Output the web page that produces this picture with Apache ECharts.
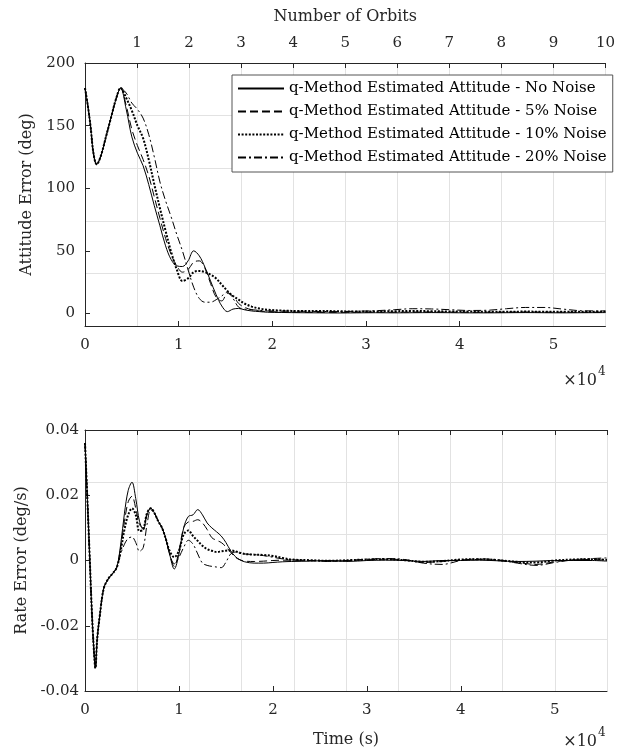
<!DOCTYPE html>
<html>
<head>
<meta charset="utf-8">
<script src="https://cdn.jsdelivr.net/npm/echarts@6/dist/echarts.min.js"></script>
<style>html,body{margin:0;padding:0;background:#fff;}#c{width:618px;height:753px;}</style>
</head>
<body>
<div id="c"></div>
<script>
// ---------- DATA ----------
const seriesNames = [
  'q-Method Estimated Attitude - No Noise',
  'q-Method Estimated Attitude - 5% Noise',
  'q-Method Estimated Attitude - 10% Noise',
  'q-Method Estimated Attitude - 20% Noise'
];
const orbitTicks = [0,1,2,3,4,5,6,7,8,9,10];
const timeTickLabels = ['0','1','2','3','4','5'];
const tMax = 55556;

// Attitude error (deg), shared time axis (s)
const tAtt = [0,300,600,900,1250,1700,2200,2800,3300,3800,4400,5000,5600,6200,6800,7400,8000,8600,9200,9800,10400,11000,11600,12200,12800,13400,14000,14600,15200,15800,16400,17000,17800,18600,19500,21000,23000,25000,27000,29000,31000,33000,35000,37000,39000,41000,43000,45000,47000,49000,51000,53000,55556];
const attCommon = [180,166,149,128,119,126,140,157,171,180];
const attNoNoise = attCommon.concat([163,141,128,118,103,86,70,54,43,38,37.5,42,50,46,37,26,15,6,1.5,3.5,4,3,2,1.5,1,0.8,0.6,0.5,0.4,0.5,0.6,0.5,0.6,0.7,0.6,0.5,0.5,0.6,0.7,0.6,0.5,0.6,0.7]);
const att5 = attCommon.concat([166,147,134,123,110,93,76,60,47,38,33,35,41,42,36,24,13,10,16,14,8,5,3,2,1.5,1.2,1,0.9,0.9,1,1.1,1,1.1,1.2,1.1,1,1,1.1,1.2,1.1,1,1,1.1]);
const att10 = attCommon.concat([172,162,150,140,123,103,84,66,49,35,26,28,33,34,33,31,28,23,18,14,11,8,5.5,4,3,2.3,2,2,1.8,1.5,1.6,1.8,2,1.8,1.6,1.5,1.4,1.4,1.5,1.4,1.3,1.4,1.5]);
const att20 = attCommon.concat([176,168,163,156,143,125,105,90,77,63,50,35,21,12,9,9,11,14,17,12,5,3.5,3,2.5,2,2,1.8,1.6,1.5,1.8,2.2,3,3.8,3.6,3,2.4,2.6,3.8,4.8,4.8,3.5,2.2,2]);

// Rate error (deg/s), shared time axis (s)
const tRate = [0,250,500,750,1000,1100,1300,1600,2000,2500,3000,3400,3800,4200,4600,5000,5400,5800,6200,6600,7000,7400,7800,8200,8600,9000,9500,10000,10500,11000,11500,12000,12500,13000,13500,14000,14500,15000,15500,16000,16500,17000,18000,19000,20000,21000,22000,24000,26000,28000,30000,32000,34000,36000,38000,40000,42000,44000,46000,48000,50000,52000,54000,55556];
const rateCommon = [0.036,0.019,0.001,-0.017,-0.030,-0.033,-0.024,-0.0163,-0.0085,-0.0055,-0.0038,-0.002];
const rateNoNoise = rateCommon.concat([0.005,0.0145,0.0215,0.024,0.019,0.012,0.0095,0.014,0.016,0.0145,0.012,0.010,0.0068,0.002,-0.0026,0.002,0.010,0.0135,0.014,0.0156,0.014,0.0115,0.010,0.0088,0.0075,0.0055,0.003,0.0012,0.0002,-0.0004,-0.0008,-0.0008,-0.0006,-0.0004,-0.0003,-0.0002,0,-0.0003,0,0.0001,0,-0.0003,0,0,0.0001,-0.0001,-0.0003,-0.0002,0,0,0,-0.0002]);
const rate5 = rateCommon.concat([0.004,0.012,0.018,0.0197,0.016,0.011,0.010,0.0145,0.016,0.0145,0.012,0.010,0.0066,0.002,-0.0018,0.003,0.010,0.0118,0.012,0.0125,0.0115,0.0095,0.007,0.0062,0.0055,0.0042,0.0025,0.001,0.0002,-0.0002,-0.0003,-0.0002,0,0.0001,0.0001,0,-0.0002,0,0.0002,0.0004,0.0002,-0.0006,-0.0003,0.0002,0.0003,0,-0.0006,-0.0012,-0.0004,0.0002,0.0003,0]);
const rate10 = rateCommon.concat([0.003,0.0095,0.014,0.016,0.014,0.009,0.0095,0.0145,0.016,0.0145,0.012,0.010,0.0066,0.003,0.001,0.003,0.008,0.0092,0.0075,0.006,0.0045,0.0035,0.003,0.0026,0.0028,0.003,0.0031,0.0028,0.0024,0.002,0.0018,0.0017,0.0014,0.0008,0.0003,0.0001,-0.0001,0.0001,0.0003,0.0004,0.0001,-0.0004,-0.0002,0.0003,0.0004,0.0001,-0.0004,-0.0006,0,0.0003,0.0004,0.0002]);
const rate20 = rateCommon.concat([0.002,0.005,0.0068,0.0072,0.0055,0.0028,0.004,0.011,0.0155,0.0145,0.012,0.010,0.0066,0.002,-0.001,0.001,0.004,0.0062,0.005,0.002,-0.0008,-0.0015,-0.0018,-0.002,-0.0022,-0.0005,0.002,0.0026,0.0022,0.002,0.0018,0.0015,0.001,0.0005,0.0002,0,-0.0003,0,0.0004,0.0006,0.0003,-0.0008,-0.0012,0,0.0005,0.0002,-0.0008,-0.0015,-0.0006,0.0002,0.0006,0.0008]);

// ---------- CHART ----------
const FONT = 'DejaVu Serif';
const AX = '#262626';
const GRIDC = '#e2e2e2';
const styles = [
  {type:'solid', width:1},
  {type:[8,4], width:1},
  {type:[2,1.6], width:2},
  {type:[8,3,2,3], width:1}
];
function pairs(t, v){ return t.map((x,i)=>[x, v[i]]); }
const attData = [attNoNoise, att5, att10, att20];
const rateData = [rateNoNoise, rate5, rate10, rate20];

const chart = echarts.init(document.getElementById('c'), null, {renderer:'canvas'});

function tickOpt(){ return {show:true, inside:true, length:5, lineStyle:{color:AX, width:1}}; }

// the time axis sits "on zero" of the auxiliary 0..5 y axis, i.e. on the bottom edge
function timeAxis(gi, name, zeroAxis){
  return {
    type:'value', gridIndex:gi, position:'bottom', min:0, max:tMax, interval:10000,
    axisLine:{show:true, onZero:true, onZeroAxisIndex:zeroAxis, lineStyle:{color:AX, width:1}},
    axisTick:tickOpt(),
    axisLabel:{margin:12, color:AX, fontFamily:FONT, fontSize:15,
      formatter:v => (v % 10000 === 0) ? timeTickLabels[v/10000] : ''},
    splitLine:{show:false},
    name:name, nameLocation:'middle', nameGap:41,
    nameTextStyle:{color:AX, fontFamily:FONT, fontSize:16}
  };
}
function orbitAxis(gi, showLabels){
  return {
    type:'value', gridIndex:gi, position:'top', min:0, max:10, interval:1, z:1,
    axisLine:{show:true, onZero:false, lineStyle:{color:AX, width:1}},
    axisTick:tickOpt(),
    axisLabel:{show:showLabels, margin:12, color:AX, fontFamily:FONT, fontSize:15, showMinLabel:false,
      formatter:v => String(orbitTicks[v])},
    splitLine:{show:true, showMinLine:false, showMaxLine:true, lineStyle:{color:GRIDC, width:1}},
    name: showLabels ? 'Number of Orbits' : '', nameLocation:'middle', nameGap:38,
    nameTextStyle:{color:AX, fontFamily:FONT, fontSize:16}
  };
}
function auxY(gi){
  return {
    type:'value', gridIndex:gi, position:'right', min:0, max:5, interval:1,
    axisLine:{show:false, onZero:false}, axisTick:{show:false}, axisLabel:{show:false},
    splitLine:{show:true, showMinLine:false, showMaxLine:false, lineStyle:{color:GRIDC, width:1}}
  };
}

const series = [];
seriesNames.forEach((n,i)=>{
  series.push({
    name:n, type:'line', xAxisIndex:0, yAxisIndex:0, data:pairs(tAtt, attData[i]),
    symbol:'none', smooth:0.35, silent:true,
    itemStyle:{color:'#000'},
    lineStyle:{color:'#000', width:styles[i].width, type:styles[i].type}
  });
  series.push({
    name:n, type:'line', xAxisIndex:2, yAxisIndex:2, data:pairs(tRate, rateData[i]),
    symbol:'none', smooth:0.35, silent:true,
    itemStyle:{color:'#000'},
    lineStyle:{color:'#000', width:styles[i].width, type:styles[i].type}
  });
});

const option = {
  animation:false,
  backgroundColor:'#fff',
  grid:[
    {left:85, top:63, width:522, height:263},
    {left:85, top:430, width:522, height:261}
  ],
  xAxis:[ timeAxis(0,'',1), orbitAxis(0,true), timeAxis(1,'Time (s)',3), orbitAxis(1,false) ],
  yAxis:[
    {type:'value', gridIndex:0, position:'left', min:-10, max:200, splitNumber:4,
     axisLine:{show:true, onZero:false, lineStyle:{color:AX, width:1}}, axisTick:tickOpt(),
     axisLabel:{margin:10, color:AX, fontFamily:FONT, fontSize:15, showMinLabel:false},
     splitLine:{show:false},
     name:'Attitude Error (deg)', nameLocation:'middle', nameGap:50,
     nameTextStyle:{color:AX, fontFamily:FONT, fontSize:16}},
    auxY(0),
    {type:'value', gridIndex:1, position:'left', min:-0.04, max:0.04, interval:0.02,
     axisLine:{show:true, onZero:false, lineStyle:{color:AX, width:1}}, axisTick:tickOpt(),
     axisLabel:{margin:6, color:AX, fontFamily:FONT, fontSize:15,
       formatter:v => Math.abs(v) < 1e-9 ? '0' : v.toFixed(2)},
     splitLine:{show:false},
     name:'Rate Error (deg/s)', nameLocation:'middle', nameGap:53,
     nameTextStyle:{color:AX, fontFamily:FONT, fontSize:16}},
    auxY(1)
  ],
  legend:{
    data:seriesNames, orient:'vertical', left:232, top:75,
    itemWidth:46, itemHeight:14, itemGap:8,
    padding:[6,6,7,5],
    backgroundColor:'#fff', borderColor:'#555', borderWidth:1,
    itemStyle:{color:'rgba(0,0,0,0)', borderWidth:0, opacity:0},
    textStyle:{color:'#000', fontFamily:FONT, fontSize:15},
    selectedMode:false
  },
  graphic:[
    {type:'text', x:597, y:381, style:{text:'×10', font:'16px "DejaVu Serif"', fill:AX, textAlign:'right', textVerticalAlign:'middle'}},
    {type:'text', x:598, y:372, style:{text:'4', font:'12px "DejaVu Serif"', fill:AX, textAlign:'left', textVerticalAlign:'middle'}},
    {type:'text', x:597, y:742, style:{text:'×10', font:'16px "DejaVu Serif"', fill:AX, textAlign:'right', textVerticalAlign:'middle'}},
    {type:'text', x:598, y:733, style:{text:'4', font:'12px "DejaVu Serif"', fill:AX, textAlign:'left', textVerticalAlign:'middle'}}
  ],
  series:series
};
chart.setOption(option);
</script>
</body>
</html>
